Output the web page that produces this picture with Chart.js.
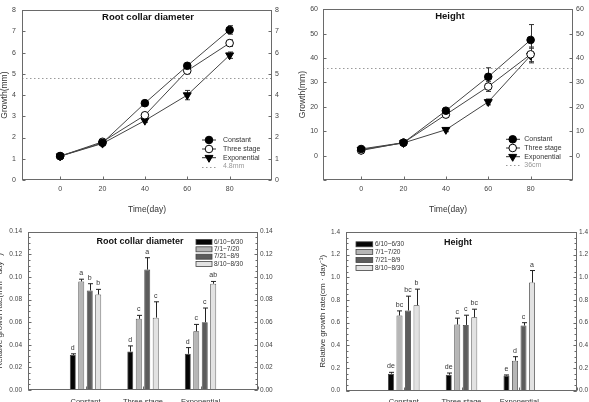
<!DOCTYPE html>
<html><head><meta charset="utf-8">
<script src="https://cdn.jsdelivr.net/npm/chart.js@4.4.1/dist/chart.umd.min.js"></script>
<style>
html,body{margin:0;padding:0;background:#fff;}
#wrap{position:relative;width:589px;height:402px;overflow:hidden;background:#fff;}
.p{position:absolute;}
canvas{display:block;}
</style></head>
<body><div id="wrap">
<div class="p" style="left:0;top:0"><canvas id="c1" width="295" height="218"></canvas></div>
<div class="p" style="left:295px;top:0"><canvas id="c2" width="294" height="218"></canvas></div>
<div class="p" style="left:0;top:218px"><canvas id="c3" width="295" height="184"></canvas></div>
<div class="p" style="left:295px;top:218px"><canvas id="c4" width="294" height="184"></canvas></div>
</div>
<script>
// ---------- DATA ----------
const days = [0, 20, 40, 60, 80];
const seriesNames = ['Constant', 'Three stage', 'Exponential'];

const rcdConstant    = [1.13, 1.75, 3.62, 5.38, 7.07];
const rcdConstantErr = [0.05, 0.05, 0.08, 0.10, 0.20];
const rcdThree       = [1.12, 1.80, 3.05, 5.15, 6.45];
const rcdThreeErr    = [0.05, 0.05, 0.10, 0.15, 0.15];
const rcdExp         = [1.12, 1.72, 2.80, 4.00, 5.88];
const rcdExpErr      = [0.05, 0.05, 0.08, 0.22, 0.15];
const rcdRef = 4.8;

const hConstant    = [2.7, 5.3, 18.4, 32.3, 47.4];
const hConstantErr = [0.5, 0.5, 0.8, 3.7, 6.3];
const hThree       = [2.1, 5.3, 16.8, 28.3, 41.5];
const hThreeErr    = [0.5, 0.5, 1.0, 2.0, 3.0];
const hExp         = [2.4, 5.2, 10.6, 22.0, 41.0];
const hExpErr      = [0.4, 0.5, 0.8, 1.2, 3.0];
const hRef = 36;

const groups  = ['Constant', 'Three stage', 'Exponential'];
const periods = ['6/10~6/30', '7/1~7/20', '7/21~8/9', '8/10~8/30'];

const rcdRateP1 = [0.031, 0.034, 0.032];  const rcdErrP1 = [0.001, 0.005, 0.0055];  const rcdLetP1 = ['d','d','d'];
const rcdRateP2 = [0.096, 0.063, 0.052];  const rcdErrP2 = [0.002, 0.003, 0.006];   const rcdLetP2 = ['a','c','c'];
const rcdRateP3 = [0.088, 0.1065, 0.060]; const rcdErrP3 = [0.006, 0.0105, 0.0125]; const rcdLetP3 = ['b','a','c'];
const rcdRateP4 = [0.0845, 0.064, 0.094]; const rcdErrP4 = [0.0045, 0.014, 0.002];  const rcdLetP4 = ['b','c','ab'];

const hRateP1 = [0.150, 0.141, 0.133]; const hErrP1 = [0.012, 0.015, 0.006]; const hLetP1 = ['de','de','e'];
const hRateP2 = [0.663, 0.584, 0.265]; const hErrP2 = [0.041, 0.056, 0.035]; const hLetP2 = ['bc','c','d'];
const hRateP3 = [0.707, 0.580, 0.575]; const hErrP3 = [0.127, 0.086, 0.025]; const hLetP3 = ['bc','c','c'];
const hRateP4 = [0.754, 0.648, 0.955]; const hErrP4 = [0.142, 0.071, 0.105]; const hLetP4 = ['b','bc','a'];

// ---------- STYLE ----------
Chart.defaults.font.family = "'Liberation Sans', Arial, sans-serif";
Chart.defaults.color = '#444';
const AX = '#6a6a6a';
const barColors = ['#050505', '#b6b6b6', '#5c5c5c', '#e2e2e2'];
const markers = [
  {pointStyle:'circle', rotation:0, radius:3.8, bg:'#000'},
  {pointStyle:'circle', rotation:0, radius:3.8, bg:'#fff'},
  {pointStyle:'triangle', rotation:180, radius:4.6, bg:'#000'}
];
const noGrid = {display:false, drawTicks:false};

function pad(a){ return [null, ...a, null]; }

function drawFrameTicks(chart, minor){
  const {ctx, chartArea:a} = chart;
  ctx.save();
  ctx.strokeStyle = AX; ctx.lineWidth = 1;
  const L = Math.round(a.left)+0.5, R = Math.round(a.right)-0.5, T = Math.round(a.top)+0.5, B = Math.round(a.bottom)-0.5;
  ctx.strokeRect(L, T, R-L, B-T);
  ctx.beginPath();
  for (const id of Object.keys(chart.scales)) {
    const s = chart.scales[id];
    s.ticks.forEach((t,i)=>{
      const p = Math.round(s.getPixelForTick(i))+0.5;
      if (id === 'x') { ctx.moveTo(p, B); ctx.lineTo(p, B-3); }
      else if (id === 'y') { ctx.moveTo(L, p); ctx.lineTo(L+3, p); }
      else if (id === 'y2') { ctx.moveTo(R, p); ctx.lineTo(R-3, p); }
    });
    if (minor && (id === 'y' || id === 'y2')) {
      for (let v = s.min; v <= s.max + 1e-9; v += minor) {
        const p = Math.round(s.getPixelForValue(v))+0.5;
        if (id === 'y') { ctx.moveTo(L, p); ctx.lineTo(L+2, p); }
        else { ctx.moveTo(R, p); ctx.lineTo(R-2, p); }
      }
    }
  }
  ctx.stroke();
  ctx.restore();
}

function drawPointAt(ctx, m, x, y){
  ctx.save();
  ctx.fillStyle = m.bg; ctx.strokeStyle = '#000'; ctx.lineWidth = 1;
  Chart.helpers.drawPoint(ctx, {pointStyle:m.pointStyle, rotation:m.rotation, radius:m.radius, borderWidth:1}, x, y);
  ctx.restore();
}

function lineDecor(cfg){
  return {
    id:'lineDecor',
    beforeDatasetsDraw(chart){
      const {ctx, chartArea:a} = chart; const ys = chart.scales.y;
      ctx.save();
      ctx.strokeStyle = '#9a9a9a'; ctx.lineWidth = 1; ctx.setLineDash([1.5, 2.5]);
      const py = Math.round(ys.getPixelForValue(cfg.ref))+0.5;
      ctx.beginPath(); ctx.moveTo(a.left, py); ctx.lineTo(a.right, py); ctx.stroke();
      ctx.setLineDash([]);
      ctx.strokeStyle = '#333';
      chart.data.datasets.forEach((ds,i)=>{
        const meta = chart.getDatasetMeta(i);
        meta.data.forEach((pt,j)=>{
          const v = ds.data[j].y, e = ds.err[j];
          const y1 = ys.getPixelForValue(v+e), y2 = ys.getPixelForValue(v-e);
          const x = Math.round(pt.x)+0.5;
          ctx.beginPath();
          ctx.moveTo(x, y1); ctx.lineTo(x, y2);
          ctx.moveTo(x-2.5, y1); ctx.lineTo(x+2.5, y1);
          ctx.moveTo(x-2.5, y2); ctx.lineTo(x+2.5, y2);
          ctx.stroke();
        });
      });
      ctx.restore();
    },
    afterDraw(chart){
      const ctx = chart.ctx;
      drawFrameTicks(chart, 0);
      ctx.save();
      ctx.fillStyle = '#111'; ctx.font = "bold 9.5px 'Liberation Sans', Arial, sans-serif";
      ctx.textAlign = 'center'; ctx.textBaseline = 'middle';
      ctx.fillText(cfg.title, cfg.tx, cfg.ty);
      const lg = cfg.legend;
      ctx.font = "7px 'Liberation Sans', Arial, sans-serif";
      ctx.textAlign = 'left';
      seriesNames.forEach((n,k)=>{
        const y = lg.rows[k];
        ctx.strokeStyle = '#333'; ctx.lineWidth = 1;
        ctx.beginPath(); ctx.moveTo(lg.x1, y); ctx.lineTo(lg.x2, y); ctx.stroke();
        drawPointAt(ctx, markers[k], lg.mx, y);
        ctx.fillStyle = '#333';
        ctx.fillText(n, lg.tx, y);
      });
      const y = lg.rows[3];
      ctx.strokeStyle = '#9a9a9a'; ctx.setLineDash([1.5,2.5]);
      ctx.beginPath(); ctx.moveTo(lg.x1, Math.round(y)+0.5); ctx.lineTo(lg.x2, Math.round(y)+0.5); ctx.stroke();
      ctx.setLineDash([]);
      ctx.fillStyle = '#999';
      ctx.fillText(cfg.refLabel, lg.tx, y);
      ctx.restore();
    }
  };
}

function barDecor(cfg){
  return {
    id:'barDecor',
    afterDatasetsDraw(chart){
      const ctx = chart.ctx; const ys = chart.scales.y;
      ctx.save();
      ctx.strokeStyle = '#222'; ctx.lineWidth = 1;
      ctx.fillStyle = '#333'; ctx.font = "7px 'Liberation Sans', Arial, sans-serif";
      ctx.textAlign = 'center'; ctx.textBaseline = 'alphabetic';
      chart.data.datasets.forEach((ds,i)=>{
        const meta = chart.getDatasetMeta(i);
        meta.data.forEach((bar,j)=>{
          const v = ds.data[j]; if (v == null) return;
          const e = ds.err[j];
          const x = Math.round(bar.x)+0.5;
          const y0 = ys.getPixelForValue(v), y1 = ys.getPixelForValue(v+e);
          ctx.beginPath();
          ctx.moveTo(x, y0); ctx.lineTo(x, y1);
          ctx.moveTo(x-2.5, y1); ctx.lineTo(x+2.5, y1);
          ctx.stroke();
          ctx.fillText(ds.letters[j], bar.x, y1 - 4);
        });
      });
      ctx.restore();
    },
    afterDraw(chart){
      const ctx = chart.ctx;
      drawFrameTicks(chart, cfg.minor);
      ctx.save();
      ctx.fillStyle = '#111'; ctx.font = "bold 9px 'Liberation Sans', Arial, sans-serif";
      ctx.textAlign = 'center'; ctx.textBaseline = 'middle';
      ctx.fillText(cfg.title, cfg.tx, cfg.ty);
      const lg = cfg.legend;
      ctx.font = "6.5px 'Liberation Sans', Arial, sans-serif";
      ctx.textAlign = 'left';
      periods.forEach((p,k)=>{
        const y = lg.rows[k];
        ctx.fillStyle = barColors[k]; ctx.strokeStyle = '#444'; ctx.lineWidth = 0.8;
        ctx.fillRect(lg.x1, y-2.5, lg.x2-lg.x1, 5);
        ctx.strokeRect(lg.x1, y-2.5, lg.x2-lg.x1, 5);
        ctx.fillStyle = '#333';
        ctx.fillText(p, lg.tx, y);
      });
      ctx.restore();
    }
  };
}

const tickFont = {size:7};
function lineChart(id, vals, errs, ymin, ymax, step, yTitle, wL, wR, titlePad, ypadL, decor){
  const datasets = vals.map((v,k)=>({
    label: seriesNames[k],
    data: days.map((d,i)=>({x:d, y:v[i]})),
    err: errs[k],
    borderColor:'#444', borderWidth:1,
    pointStyle: markers[k].pointStyle, pointRotation: markers[k].rotation,
    pointRadius: markers[k].radius, pointBackgroundColor: markers[k].bg,
    pointBorderColor:'#000', pointBorderWidth:1, tension:0, fill:false
  }));
  const yCommon = {min:ymin, max:ymax, grid:noGrid, border:{display:false},
    ticks:{stepSize:step, font:tickFont, color:'#444', callback:(v)=> v < 0 ? '' : String(v)}};
  return new Chart(document.getElementById(id), {
    type:'line',
    data:{datasets},
    options:{
      responsive:false, animation:false, events:[],
      layout:{padding:{top:5, left:0, right:0, bottom:0}},
      plugins:{legend:{display:false}, tooltip:{enabled:false}},
      scales:{
        x:{type:'linear', min:-18, max:100,
           afterBuildTicks:(s)=>{ s.ticks = days.map(v=>({value:v})); },
           afterFit:(s)=>{ s.height = 38; },
           grid:noGrid, border:{display:false},
           ticks:{font:tickFont, color:'#444', padding:5, maxRotation:0},
           title:{display:true, text:'Time(day)', color:'#333', font:{size:8.5}, padding:{top:0, bottom:3.6}}},
        y:Object.assign({}, yCommon, {position:'left', afterFit:(s)=>{ s.width = wL; },
           ticks:Object.assign({}, yCommon.ticks, {padding:ypadL}),
           title:{display:true, text:yTitle, color:'#333', font:{size:8.5}, padding:{top:titlePad, bottom:0}}}),
        y2:Object.assign({}, yCommon, {position:'right', afterFit:(s)=>{ s.width = wR; },
           ticks:Object.assign({}, yCommon.ticks, {padding:3})})
      }
    },
    plugins:[decor]
  });
}

function barChart(id, rates, errs, lets, ymax, step, dec, yTitle, padTop, xH, wL, wR, titlePad, decor){
  const datasets = periods.map((p,k)=>({
    label:p, data:pad(rates[k]), err:pad(errs[k]), letters:pad(lets[k]),
    backgroundColor:barColors[k], borderColor:'#3a3a3a', borderWidth:0.8,
    categoryPercentage:0.59, barPercentage:0.7
  }));
  const yCommon = {min:0, max:ymax, grid:noGrid, border:{display:false},
    ticks:{stepSize:step, font:{size:6.5}, color:'#444', callback:(v)=> Number(v).toFixed(dec)}};
  return new Chart(document.getElementById(id), {
    type:'bar',
    data:{labels:pad(groups).map(g=>g==null?'':g), datasets},
    options:{
      responsive:false, animation:false, events:[],
      layout:{padding:{top:padTop, left:0, right:0, bottom:0}},
      plugins:{legend:{display:false}, tooltip:{enabled:false}},
      scales:{
        x:{offset:false, afterFit:(s)=>{ s.height = xH; },
           grid:{display:false, drawTicks:false, offset:false}, border:{display:false},
           ticks:{font:{size:7.5}, color:'#333', padding:7, maxRotation:0, autoSkip:false}},
        y:Object.assign({}, yCommon, {position:'left', afterFit:(s)=>{ s.width = wL; },
           ticks:Object.assign({}, yCommon.ticks, {padding:6}),
           title:{display:true, text:yTitle, color:'#333', font:{size:8}, padding:{top:titlePad, bottom:0}}}),
        y2:Object.assign({}, yCommon, {position:'right', afterFit:(s)=>{ s.width = wR; },
           ticks:Object.assign({}, yCommon.ticks, {padding:2})})
      }
    },
    plugins:[decor]
  });
}

lineChart('c1', [rcdConstant, rcdThree, rcdExp], [rcdConstantErr, rcdThreeErr, rcdExpErr],
  0, 8, 1, 'Growth(mm)', 22, 23, -0.9, 6,
  lineDecor({ref:rcdRef, refLabel:'4.8mm', title:'Root collar diameter', tx:148, ty:17,
    legend:{x1:202, x2:216, mx:209, tx:223, rows:[140, 149, 157.7, 166.5]}}));

lineChart('c2', [hConstant, hThree, hExp], [hConstantErr, hThreeErr, hExpErr],
  -10, 60, 10, 'Growth(mm)', 28, 16, 2.3, 5,
  lineDecor({ref:hRef, refLabel:'36cm', title:'Height', tx:155, ty:16,
    legend:{x1:211, x2:225, mx:217.7, tx:229.3, rows:[139.3, 148, 156.7, 165.3]}}));

barChart('c3', [rcdRateP1, rcdRateP2, rcdRateP3, rcdRateP4], [rcdErrP1, rcdErrP2, rcdErrP3, rcdErrP4],
  [rcdLetP1, rcdLetP2, rcdLetP3, rcdLetP4], 0.14, 0.02, 2,
  'Relative growth rate(mm · day⁻¹)', 13.7, 12, 28, 37, -4.9,
  barDecor({title:'Root collar diameter', tx:140, ty:24, minor:0.005,
    legend:{x1:196, x2:212, tx:214, rows:[24, 31.3, 38.7, 46]}}));

barChart('c4', [hRateP1, hRateP2, hRateP3, hRateP4], [hErrP1, hErrP2, hErrP3, hErrP4],
  [hLetP1, hLetP2, hLetP3, hLetP4], 1.4, 0.2, 1,
  'Relative growth rate(cm · day⁻¹)', 14, 11.3, 51, 12, 23,
  barDecor({title:'Height', tx:163, ty:25, minor:0.05,
    legend:{x1:61, x2:77.7, tx:80, rows:[26.3, 34, 42, 50]}}));
</script>
</body></html>
